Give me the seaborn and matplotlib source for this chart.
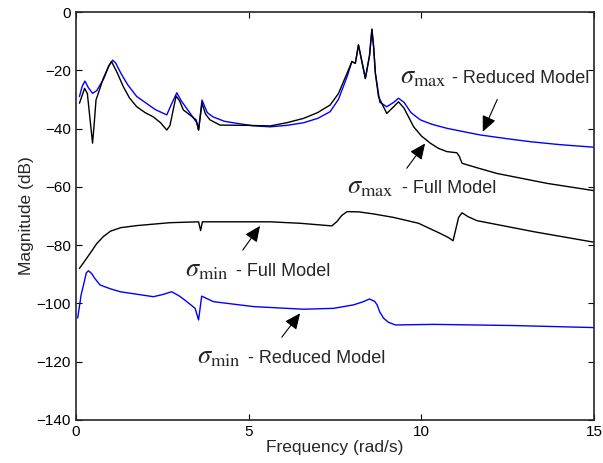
import numpy as np
import pandas as pd
import matplotlib
matplotlib.use("Agg")
import matplotlib.pyplot as plt
import seaborn as sns

# sigma_max, reduced model (blue)
freq_max_red = [0.1, 0.18, 0.26, 0.36, 0.48, 0.6, 0.8, 0.95, 1.06, 1.15, 1.3, 1.5, 1.76, 2.0, 2.3,
                2.63, 2.75, 2.92, 3.05, 3.2, 3.5, 3.55, 3.65, 3.8, 3.97, 4.3, 4.66, 5.1, 5.62,
                6.1, 6.59, 7.0, 7.36, 7.6, 7.85, 7.99, 8.09, 8.18, 8.28, 8.38, 8.5, 8.57, 8.62,
                8.67, 8.8, 9.0, 9.2, 9.34, 9.5, 9.7, 9.97, 10.3, 10.74, 11.2, 11.71, 12.5,
                13.16, 14.0, 15.0]
mag_max_red = [-29, -25.5, -23.7, -26, -27.9, -27, -23, -18.5, -16.5, -17.5, -21, -25, -29, -31, -33.5,
               -35.3, -32, -27.7, -30.5, -33, -38, -40.5, -30.2, -34.5, -36, -37.5, -38.2, -39, -39.4,
               -38.9, -38, -36.5, -34.2, -30, -22.2, -17, -17.6, -11.3, -17, -22.8, -15, -5.9, -12,
               -21, -31, -32.5, -31, -29.6, -31, -34.5, -37, -38.5, -39.9, -41, -42.2, -43.5,
               -44.5, -45.5, -46.4]

# sigma_max, full model (black)
freq_max_full = [0.1, 0.25, 0.33, 0.4, 0.48, 0.53, 0.58, 0.79, 0.95, 1.03, 1.2, 1.37, 1.55, 1.76,
                 2.0, 2.24, 2.45, 2.63, 2.72, 2.9, 3.0, 3.11, 3.48, 3.55, 3.65, 3.75, 3.88, 4.17,
                 5.0, 5.62, 6.1, 6.59, 7.0, 7.36, 7.6, 7.85, 7.99, 8.09, 8.18, 8.28, 8.38, 8.5,
                 8.57, 8.62, 8.67, 8.76, 9.0, 9.2, 9.34, 9.5, 9.78, 10.0, 10.26, 10.5, 10.74,
                 11.03, 11.1, 11.18, 11.6, 12.19, 13.64, 15.0]
mag_max_full = [-31.3, -26.2, -28, -36, -45, -38, -30.2, -22.8, -18.5, -17, -21, -25.6, -29.5, -32.5,
                -34.5, -36, -38, -40.5, -39, -28.8, -30.5, -33.6, -37, -40.5, -31.3, -35, -37, -38.8,
                -38.9, -39.1, -38, -36.5, -34.5, -31.9, -28, -21, -17, -17.6, -11.3, -17, -22.8, -15,
                -5.9, -12, -21, -29, -34.8, -32.5, -30.8, -33, -39.4, -42.5, -45, -46.8, -47.9,
                -48.3, -49.5, -51.9, -53.4, -55.4, -58.8, -61.3]

# sigma_min, full model (black)
freq_min_full = [0.1, 0.25, 0.41, 0.6, 0.79, 1.0, 1.3, 1.76, 2.72, 3.55, 3.61, 3.66, 5.62, 6.49,
                 7.41, 7.55, 7.7, 7.85, 8.2, 8.62, 9.2, 9.92, 10.55, 10.8, 10.92, 11.0, 11.08,
                 11.18, 11.35, 11.61, 13.26, 15.0]
mag_min_full = [-88, -85.5, -82.8, -79.5, -77.1, -75.2, -74, -73.3, -72.3, -72, -75, -72, -72, -72.5,
                -73.4, -72, -69.8, -68.5, -68.6, -69.3, -70.5, -72.5, -76, -77.5, -78.5, -74.5, -70.5,
                -68.9, -70.2, -71.6, -75.4, -79]

# sigma_min, reduced model (blue)
freq_min_red = [0.05, 0.15, 0.23, 0.3, 0.36, 0.45, 0.55, 0.7, 1.0, 1.28, 2.24, 2.5, 2.77, 3.0,
                3.21, 3.45, 3.55, 3.64, 3.98, 5.14, 6.59, 7.46, 8.04, 8.3, 8.5, 8.65, 8.72,
                8.8, 8.91, 9.05, 9.25, 10.36, 12.68, 15.0]
mag_min_red = [-105, -97, -93.1, -89.5, -88.8, -89.7, -91.5, -93.7, -95, -96, -97.7, -97, -96, -97.5,
               -99.4, -101.7, -105.7, -97.5, -99.4, -101.1, -102, -101.7, -100.5, -99.5, -98.5, -99.3,
               -100.5, -103, -105.1, -106.5, -107.4, -107.2, -107.6, -108.3]

sns.set_style("ticks")
plt.rcParams["font.family"] = ["Liberation Sans", "DejaVu Sans"]
plt.rcParams["mathtext.fontset"] = "stix"

fig = plt.figure(figsize=(6.03, 4.63), dpi=100)
ax = fig.add_axes([0.126, 0.093, 0.859, 0.881])

curves = [
    (freq_max_red, mag_max_red, "#0000ff"),
    (freq_max_full, mag_max_full, "black"),
    (freq_min_full, mag_min_full, "black"),
    (freq_min_red, mag_min_red, "#0000ff"),
]
for f, m, c in curves:
    df = pd.DataFrame({"freq": f, "mag": m})
    sns.lineplot(data=df, x="freq", y="mag", color=c, lw=1.0, estimator=None, sort=False, ax=ax)

ax.set_xlim(0, 15)
ax.set_ylim(-140, 0)
ax.set_xticks([0, 5, 10, 15])
ax.set_yticks(np.arange(-140, 1, 20))
ax.tick_params(direction="in", top=True, right=True, labelsize=11, length=4, width=0.8, colors="black")
for s in ax.spines.values():
    s.set_visible(True)
    s.set_linewidth(1.2)
ax.set_xlabel("Frequency (rad/s)", fontsize=12.5, labelpad=1)
ax.set_ylabel("Magnitude (dB)", fontsize=12.5, labelpad=2)

# annotations: (sigma label, sigma x, text, text x, baseline y, arrow tail, arrow tip)
labels = [
    (r"$\sigma_{\mathrm{max}}$", 9.38, "- Reduced Model", 10.89, -24.5, (12.2, -30.0), (11.78, -41.1)),
    (r"$\sigma_{\mathrm{max}}$", 7.84, "- Full Model", 9.43, -62.2, (9.58, -53.6), (10.11, -45.1)),
    (r"$\sigma_{\mathrm{min}}$", 3.16, "- Full Model", 4.63, -90.6, (4.83, -81.7), (5.33, -73.4)),
    (r"$\sigma_{\mathrm{min}}$", 3.51, "- Reduced Model", 4.99, -120.5, (5.96, -111.6), (6.49, -103.4)),
]
for sig, sx, txt, tx, by, tail, tip in labels:
    ax.text(sx, by, sig, fontsize=19, ha="left", va="baseline")
    ax.text(tx, by, txt, fontsize=13, ha="left", va="baseline")
    ax.annotate("", xy=tip, xytext=tail,
                arrowprops=dict(arrowstyle="-|>,head_length=0.6,head_width=0.27", color="black",
                                lw=0.8, mutation_scale=16, shrinkA=0, shrinkB=0))

fig.savefig("out.png", dpi=100)
